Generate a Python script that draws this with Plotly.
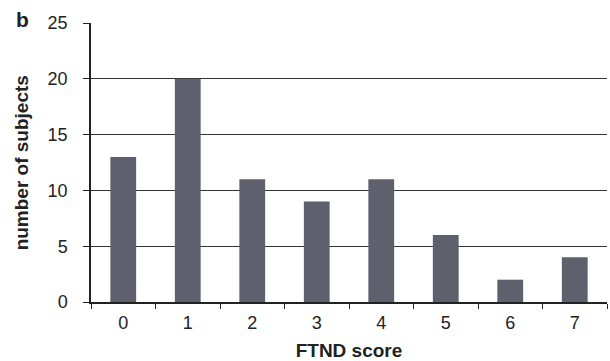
import plotly.graph_objects as go

# FTND score distribution
scores = ["0", "1", "2", "3", "4", "5", "6", "7"]
subjects = [13, 20, 11, 9, 11, 6, 2, 4]
y_ticks = [0, 5, 10, 15, 20, 25]

bar_color = "#5e606e"
ink = "#222222"
font_family = "Liberation Sans, Arial, sans-serif"

fig = go.Figure(
    go.Bar(
        x=scores,
        y=subjects,
        marker=dict(color=bar_color, line=dict(width=0)),
        width=0.4,
    )
)

fig.update_layout(
    width=610,
    height=361,
    margin=dict(l=91, r=3, t=23, b=59),
    paper_bgcolor="white",
    plot_bgcolor="white",
    showlegend=False,
    font=dict(family=font_family, size=18, color=ink),
    xaxis=dict(
        type="category",
        tickson="boundaries",
        ticks="outside",
        ticklen=5,
        tickwidth=1,
        tickcolor=ink,
        showgrid=False,
        showline=True,
        linecolor=ink,
        linewidth=1.5,
        tickfont=dict(size=18),
        ticklabelstandoff=4,
        title=dict(text="<b>FTND score</b>", font=dict(size=19), standoff=11),
    ),
    yaxis=dict(
        range=[0, 25],
        tickvals=y_ticks,
        ticks="outside",
        ticklen=6,
        tickcolor=ink,
        showgrid=True,
        gridcolor="#333333",
        gridwidth=1,
        showline=True,
        linecolor=ink,
        linewidth=1.5,
        zeroline=False,
        tickfont=dict(size=18),
        ticklabelstandoff=12,
    ),
    annotations=[
        dict(
            text="<b>b</b>",
            xref="paper",
            yref="paper",
            x=-0.133,
            y=1.0125,
            xanchor="center",
            yanchor="middle",
            showarrow=False,
            font=dict(size=21, color=ink),
        ),
        dict(
            text="<b>number of subjects</b>",
            xref="paper",
            yref="paper",
            x=-0.134,
            y=0.5,
            xanchor="center",
            yanchor="middle",
            textangle=-90,
            showarrow=False,
            font=dict(size=19, color=ink),
        ),
    ],
)

fig.write_html("out.html")
